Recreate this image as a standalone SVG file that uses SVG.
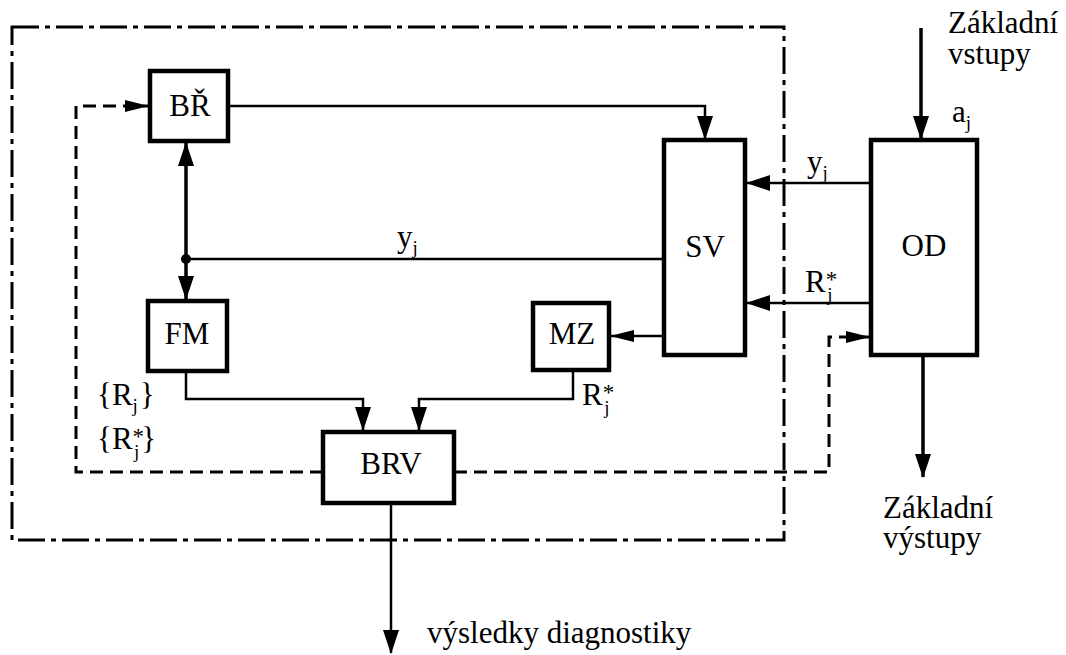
<svg xmlns="http://www.w3.org/2000/svg" width="1066" height="655" viewBox="0 0 1066 655" font-family="Liberation Serif, DejaVu Serif, serif">
<style>
  .lbl { font-size: 31px; fill: #000; }
  .sub { font-size: 19px; }
  .ast { font-size: 23px; }
  .box { fill: #fff; stroke: #000; stroke-width: 4.5; }
  .ln { fill: none; stroke: #000; stroke-width: 2.5; }
  .thk { fill: none; stroke: #000; stroke-width: 3.5; }
  .dash { fill: none; stroke: #000; stroke-width: 3; stroke-dasharray: 13 7; }
  .frame { fill: none; stroke: #000; stroke-width: 3; stroke-dasharray: 27 6 5 6; }
</style>
<defs>
  <marker id="arr" markerUnits="userSpaceOnUse" markerWidth="24" markerHeight="16" viewBox="0 0 24 16" refX="23" refY="8" orient="auto-start-reverse">
    <path d="M0,0 L24,8 L0,16 z" fill="#000"/>
  </marker>
  <marker id="arrs" markerUnits="userSpaceOnUse" markerWidth="24" markerHeight="12" viewBox="0 0 24 12" refX="23" refY="6" orient="auto">
    <path d="M0,0 L24,6 L0,12 z" fill="#000"/>
  </marker>
</defs>

<rect id="frame" x="12" y="27" width="772" height="513" class="frame"/>

<g id="connectors">
  <polyline class="ln" points="228,106 705,106 705,139" marker-end="url(#arr)"/>
  <line class="thk" x1="186" y1="143" x2="186" y2="299" marker-start="url(#arr)" marker-end="url(#arr)"/>
  <circle cx="186" cy="259" r="5" fill="#000"/>
  <line class="ln" x1="186" y1="259" x2="664" y2="259"/>
  <line class="ln" x1="871" y1="183" x2="747" y2="183" marker-end="url(#arr)"/>
  <line class="ln" x1="871" y1="303" x2="747" y2="303" marker-end="url(#arr)"/>
  <line class="ln" x1="664" y1="336" x2="611" y2="336" marker-end="url(#arrs)"/>
  <polyline class="ln" points="186,371 186,399 363,399 363,430" marker-end="url(#arr)"/>
  <polyline class="ln" points="573,370 573,399 419,399 419,430" marker-end="url(#arr)"/>
  <polyline class="dash" points="323,472 76,472 76,106 148,106" marker-end="url(#arrs)"/>
  <polyline class="dash" points="454,472 829,472 829,337 869,337" marker-end="url(#arrs)"/>
  <line class="thk" x1="921" y1="28" x2="921" y2="139" marker-end="url(#arr)"/>
  <line class="thk" x1="923" y1="357" x2="923" y2="477" marker-end="url(#arr)"/>
  <line class="ln" x1="391" y1="505" x2="391" y2="653" marker-end="url(#arr)"/>
</g>

<g id="node-BR">
  <rect class="box" x="150" y="71" width="78" height="70"/>
  <text class="lbl" x="190" y="116" text-anchor="middle">BŘ</text>
</g>
<g id="node-SV">
  <rect class="box" x="664" y="140" width="81" height="215"/>
  <text class="lbl" x="705" y="257" text-anchor="middle">SV</text>
</g>
<g id="node-OD">
  <rect class="box" x="871" y="140" width="106" height="215"/>
  <text class="lbl" x="924" y="256" text-anchor="middle">OD</text>
</g>
<g id="node-FM">
  <rect class="box" x="148" y="301" width="79" height="70"/>
  <text class="lbl" x="187" y="344" text-anchor="middle">FM</text>
</g>
<g id="node-MZ">
  <rect class="box" x="533" y="303" width="76" height="67"/>
  <text class="lbl" x="572" y="344" text-anchor="middle">MZ</text>
</g>
<g id="node-BRV">
  <rect class="box" x="323" y="432" width="131" height="71"/>
  <text class="lbl" x="391" y="474" text-anchor="middle">BRV</text>
</g>

<g id="labels">
  <text class="lbl" x="948" y="33">Základní</text>
  <text class="lbl" x="948" y="64">vstupy</text>
  <text class="lbl" x="952" y="122">a<tspan class="sub" dy="7">j</tspan></text>

  <text class="lbl" x="807" y="172">y<tspan class="sub" dy="7">j</tspan></text>

  <text class="lbl" x="805" y="292">R<tspan class="ast" dy="-5">*</tspan><tspan class="sub" dx="-10" dy="14">j</tspan></text>

  <text class="lbl" x="397" y="247">y<tspan class="sub" dy="7">j</tspan></text>

  <text class="lbl" x="582" y="405">R<tspan class="ast" dy="-5">*</tspan><tspan class="sub" dx="-10" dy="14">j</tspan></text>

  <text class="lbl" x="97" y="405">{R<tspan class="sub" dy="7">j</tspan><tspan dx="2" dy="-7">}</tspan></text>

  <text class="lbl" x="97" y="449">{R<tspan class="ast" dy="-5">*</tspan><tspan class="sub" dx="-10" dy="14">j</tspan><tspan dx="2" dy="-9">}</tspan></text>

  <text class="lbl" x="883" y="518">Základní</text>
  <text class="lbl" x="883" y="548">výstupy</text>

  <text class="lbl" x="427" y="643">výsledky diagnostiky</text>
</g>
</svg>
